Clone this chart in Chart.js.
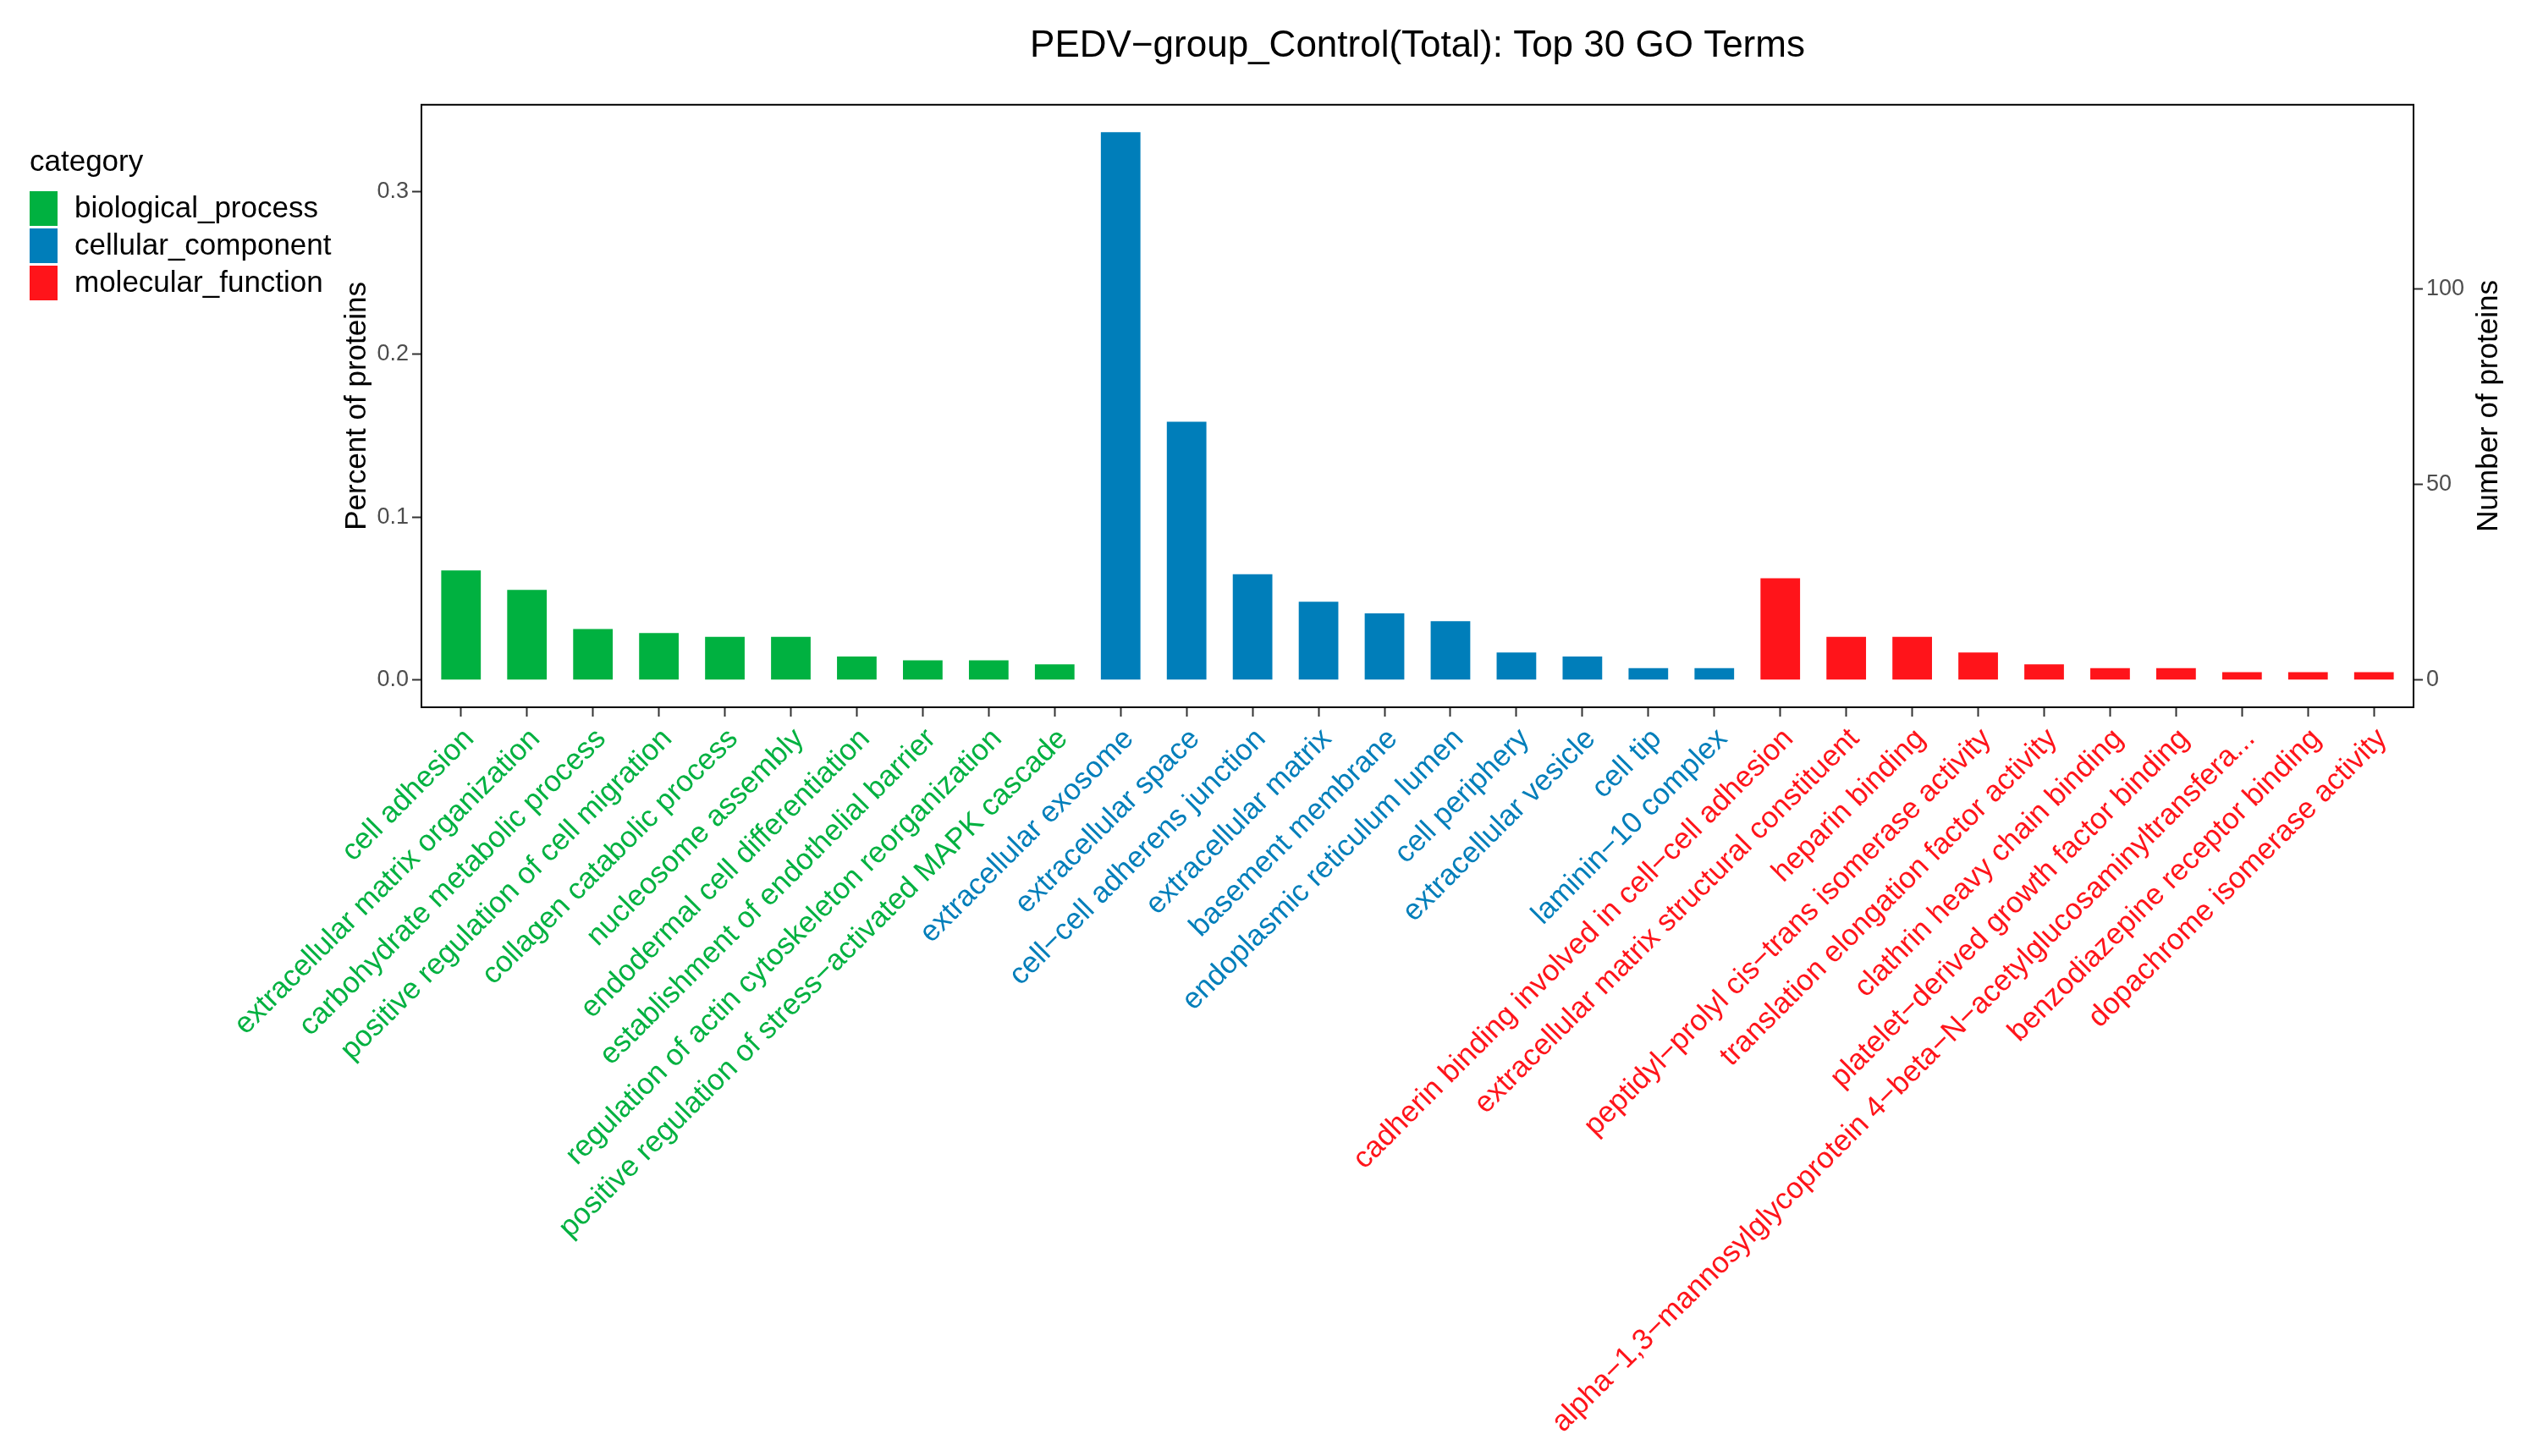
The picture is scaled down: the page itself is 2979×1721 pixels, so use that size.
<!DOCTYPE html>
<html>
<head>
<meta charset="utf-8">
<title>PEDV−group_Control(Total): Top 30 GO Terms</title>
<script src="https://cdn.jsdelivr.net/npm/chart.js@4/dist/chart.umd.min.js"></script>
<style>
  html, body { margin: 0; padding: 0; background: #fff; }
  canvas { display: block; }
</style>
</head>
<body>
<canvas id="go-chart" width="2979" height="1721"></canvas>
<script>
(function () {
    'use strict';

    // ---- data ----
    var TERMS = [
        'cell adhesion',
        'extracellular matrix organization',
        'carbohydrate metabolic process',
        'positive regulation of cell migration',
        'collagen catabolic process',
        'nucleosome assembly',
        'endodermal cell differentiation',
        'establishment of endothelial barrier',
        'regulation of actin cytoskeleton reorganization',
        'positive regulation of stress\u2212activated MAPK cascade',
        'extracellular exosome',
        'extracellular space',
        'cell\u2212cell adherens junction',
        'extracellular matrix',
        'basement membrane',
        'endoplasmic reticulum lumen',
        'cell periphery',
        'extracellular vesicle',
        'cell tip',
        'laminin\u221210 complex',
        'cadherin binding involved in cell\u2212cell adhesion',
        'extracellular matrix structural constituent',
        'heparin binding',
        'peptidyl\u2212prolyl cis\u2212trans isomerase activity',
        'translation elongation factor activity',
        'clathrin heavy chain binding',
        'platelet\u2212derived growth factor binding',
        'alpha\u22121,3\u2212mannosylglycoprotein 4\u2212beta\u2212N\u2212acetylglucosaminyltransfera...',
        'benzodiazepine receptor binding',
        'dopachrome isomerase activity'
    ];
    // 0 = biological_process, 1 = cellular_component, 2 = molecular_function
    var TERM_CATEGORY = [0,0,0,0,0,0,0,0,0,0, 1,1,1,1,1,1,1,1,1,1, 2,2,2,2,2,2,2,2,2,2];
    var COUNTS = [28,23,13,12,11,11,6,5,5,4, 140,66,27,20,17,15,7,6,3,3, 26,11,11,7,4,3,3,2,2,2];

    var CATEGORY_NAMES = ['biological_process', 'cellular_component', 'molecular_function'];
    var CATEGORY_COLORS = ['#00B140', '#007EBA', '#FF141A'];

    var TOTAL_PROTEINS = 416;          // ratio between the two y axes
    var COUNT_RANGE = [-7, 147];
    var COUNT_TICKS = [0, 50, 100];
    var PCT_TICKS = [0, 0.1, 0.2, 0.3];

    var TITLE = 'PEDV\u2212group_Control(Total): Top 30 GO Terms';
    var LEFT_TITLE = 'Percent of proteins';
    var RIGHT_TITLE = 'Number of proteins';
    var LEGEND_TITLE = 'category';

    var FONT = "'Liberation Sans', Arial, Helvetica, sans-serif";
    Chart.defaults.font.family = FONT;

    var tickGrid = { drawOnChartArea: false, drawTicks: true, offset: false, tickLength: 11, tickWidth: 2, tickColor: '#333' };

    // frame, right-hand axis title (reads bottom to top) and the category key
    var decor = {
        id: 'decor',
        afterDraw: function (chart) {
            var ctx = chart.ctx, a = chart.chartArea;
            ctx.save();
            ctx.strokeStyle = '#000';
            ctx.lineWidth = 2;
            ctx.strokeRect(a.left, a.top, a.right - a.left, a.bottom - a.top);

            ctx.fillStyle = '#000';
            ctx.font = '35px ' + FONT;
            ctx.textAlign = 'center';
            ctx.textBaseline = 'middle';
            ctx.save();
            ctx.translate(chart.scales.yCount.left + 89, (a.top + a.bottom) / 2);
            ctx.rotate(-Math.PI / 2);
            ctx.fillText(RIGHT_TITLE, 0, 0);
            ctx.restore();

            ctx.textAlign = 'left';
            ctx.fillText(LEGEND_TITLE, 35, 192);
            CATEGORY_NAMES.forEach(function (name, i) {
                var y = 226 + i * 44;
                ctx.fillStyle = CATEGORY_COLORS[i];
                ctx.fillRect(35, y, 33, 41);
                ctx.fillStyle = '#000';
                ctx.fillText(name, 88, y + 21);
            });
            ctx.restore();
        }
    };

    new Chart(document.getElementById('go-chart'), {
        type: 'bar',
        data: {
            datasets: [{
                data: COUNTS.map(function (c, i) { return { x: i + 1, y: c }; }),
                backgroundColor: TERM_CATEGORY.map(function (c) { return CATEGORY_COLORS[c]; }),
                borderWidth: 0,
                barPercentage: 0.6,
                categoryPercentage: 1,
                xAxisID: 'x',
                yAxisID: 'yCount'
            }]
        },
        options: {
            responsive: false,
            devicePixelRatio: 1,
            animation: false,
            layout: { padding: 0 },
            plugins: {
                legend: { display: false },
                tooltip: { enabled: false },
                title: {
                    display: true,
                    text: TITLE,
                    fullSize: false,
                    color: '#000',
                    font: { size: 44, weight: 'normal', lineHeight: 1.2 },
                    padding: { top: 28, bottom: 43 }
                }
            },
            scales: {
                x: {
                    type: 'linear',
                    position: 'bottom',
                    offset: false,
                    min: 0.4,
                    max: TERMS.length + 0.6,
                    afterBuildTicks: function (s) {
                        s.ticks = TERMS.map(function (t, i) { return { value: i + 1 }; });
                    },
                    afterFit: function (s) { s.height = 885; },
                    grid: tickGrid,
                    border: { display: false },
                    ticks: {
                        autoSkip: false,
                        minRotation: 45,
                        maxRotation: 45,
                        padding: 6,
                        labelOffset: 10,
                        font: { size: 35 },
                        color: function (c) { return CATEGORY_COLORS[TERM_CATEGORY[c.index]]; },
                        callback: function (v) { return TERMS[v - 1]; }
                    }
                },
                yPct: {
                    type: 'linear',
                    position: 'left',
                    min: COUNT_RANGE[0] / TOTAL_PROTEINS,
                    max: COUNT_RANGE[1] / TOTAL_PROTEINS,
                    afterBuildTicks: function (s) {
                        s.ticks = PCT_TICKS.map(function (v) { return { value: v }; });
                    },
                    afterFit: function (s) { s.width = 498; },
                    grid: tickGrid,
                    border: { display: false },
                    ticks: {
                        padding: 4,
                        color: '#4D4D4D',
                        font: { size: 27 },
                        callback: function (v) { return v.toFixed(1); }
                    },
                    title: {
                        display: true,
                        text: LEFT_TITLE,
                        color: '#000',
                        font: { size: 35, lineHeight: 1.2 },
                        padding: { top: 401, bottom: 0 }
                    }
                },
                yCount: {
                    type: 'linear',
                    position: 'right',
                    min: COUNT_RANGE[0],
                    max: COUNT_RANGE[1],
                    afterBuildTicks: function (s) {
                        s.ticks = COUNT_TICKS.map(function (v) { return { value: v }; });
                    },
                    afterFit: function (s) { s.width = 127; },
                    grid: tickGrid,
                    border: { display: false },
                    ticks: {
                        padding: 4,
                        color: '#4D4D4D',
                        font: { size: 27 }
                    }
                }
            }
        },
        plugins: [decor]
    });
})();
</script>
</body>
</html>
